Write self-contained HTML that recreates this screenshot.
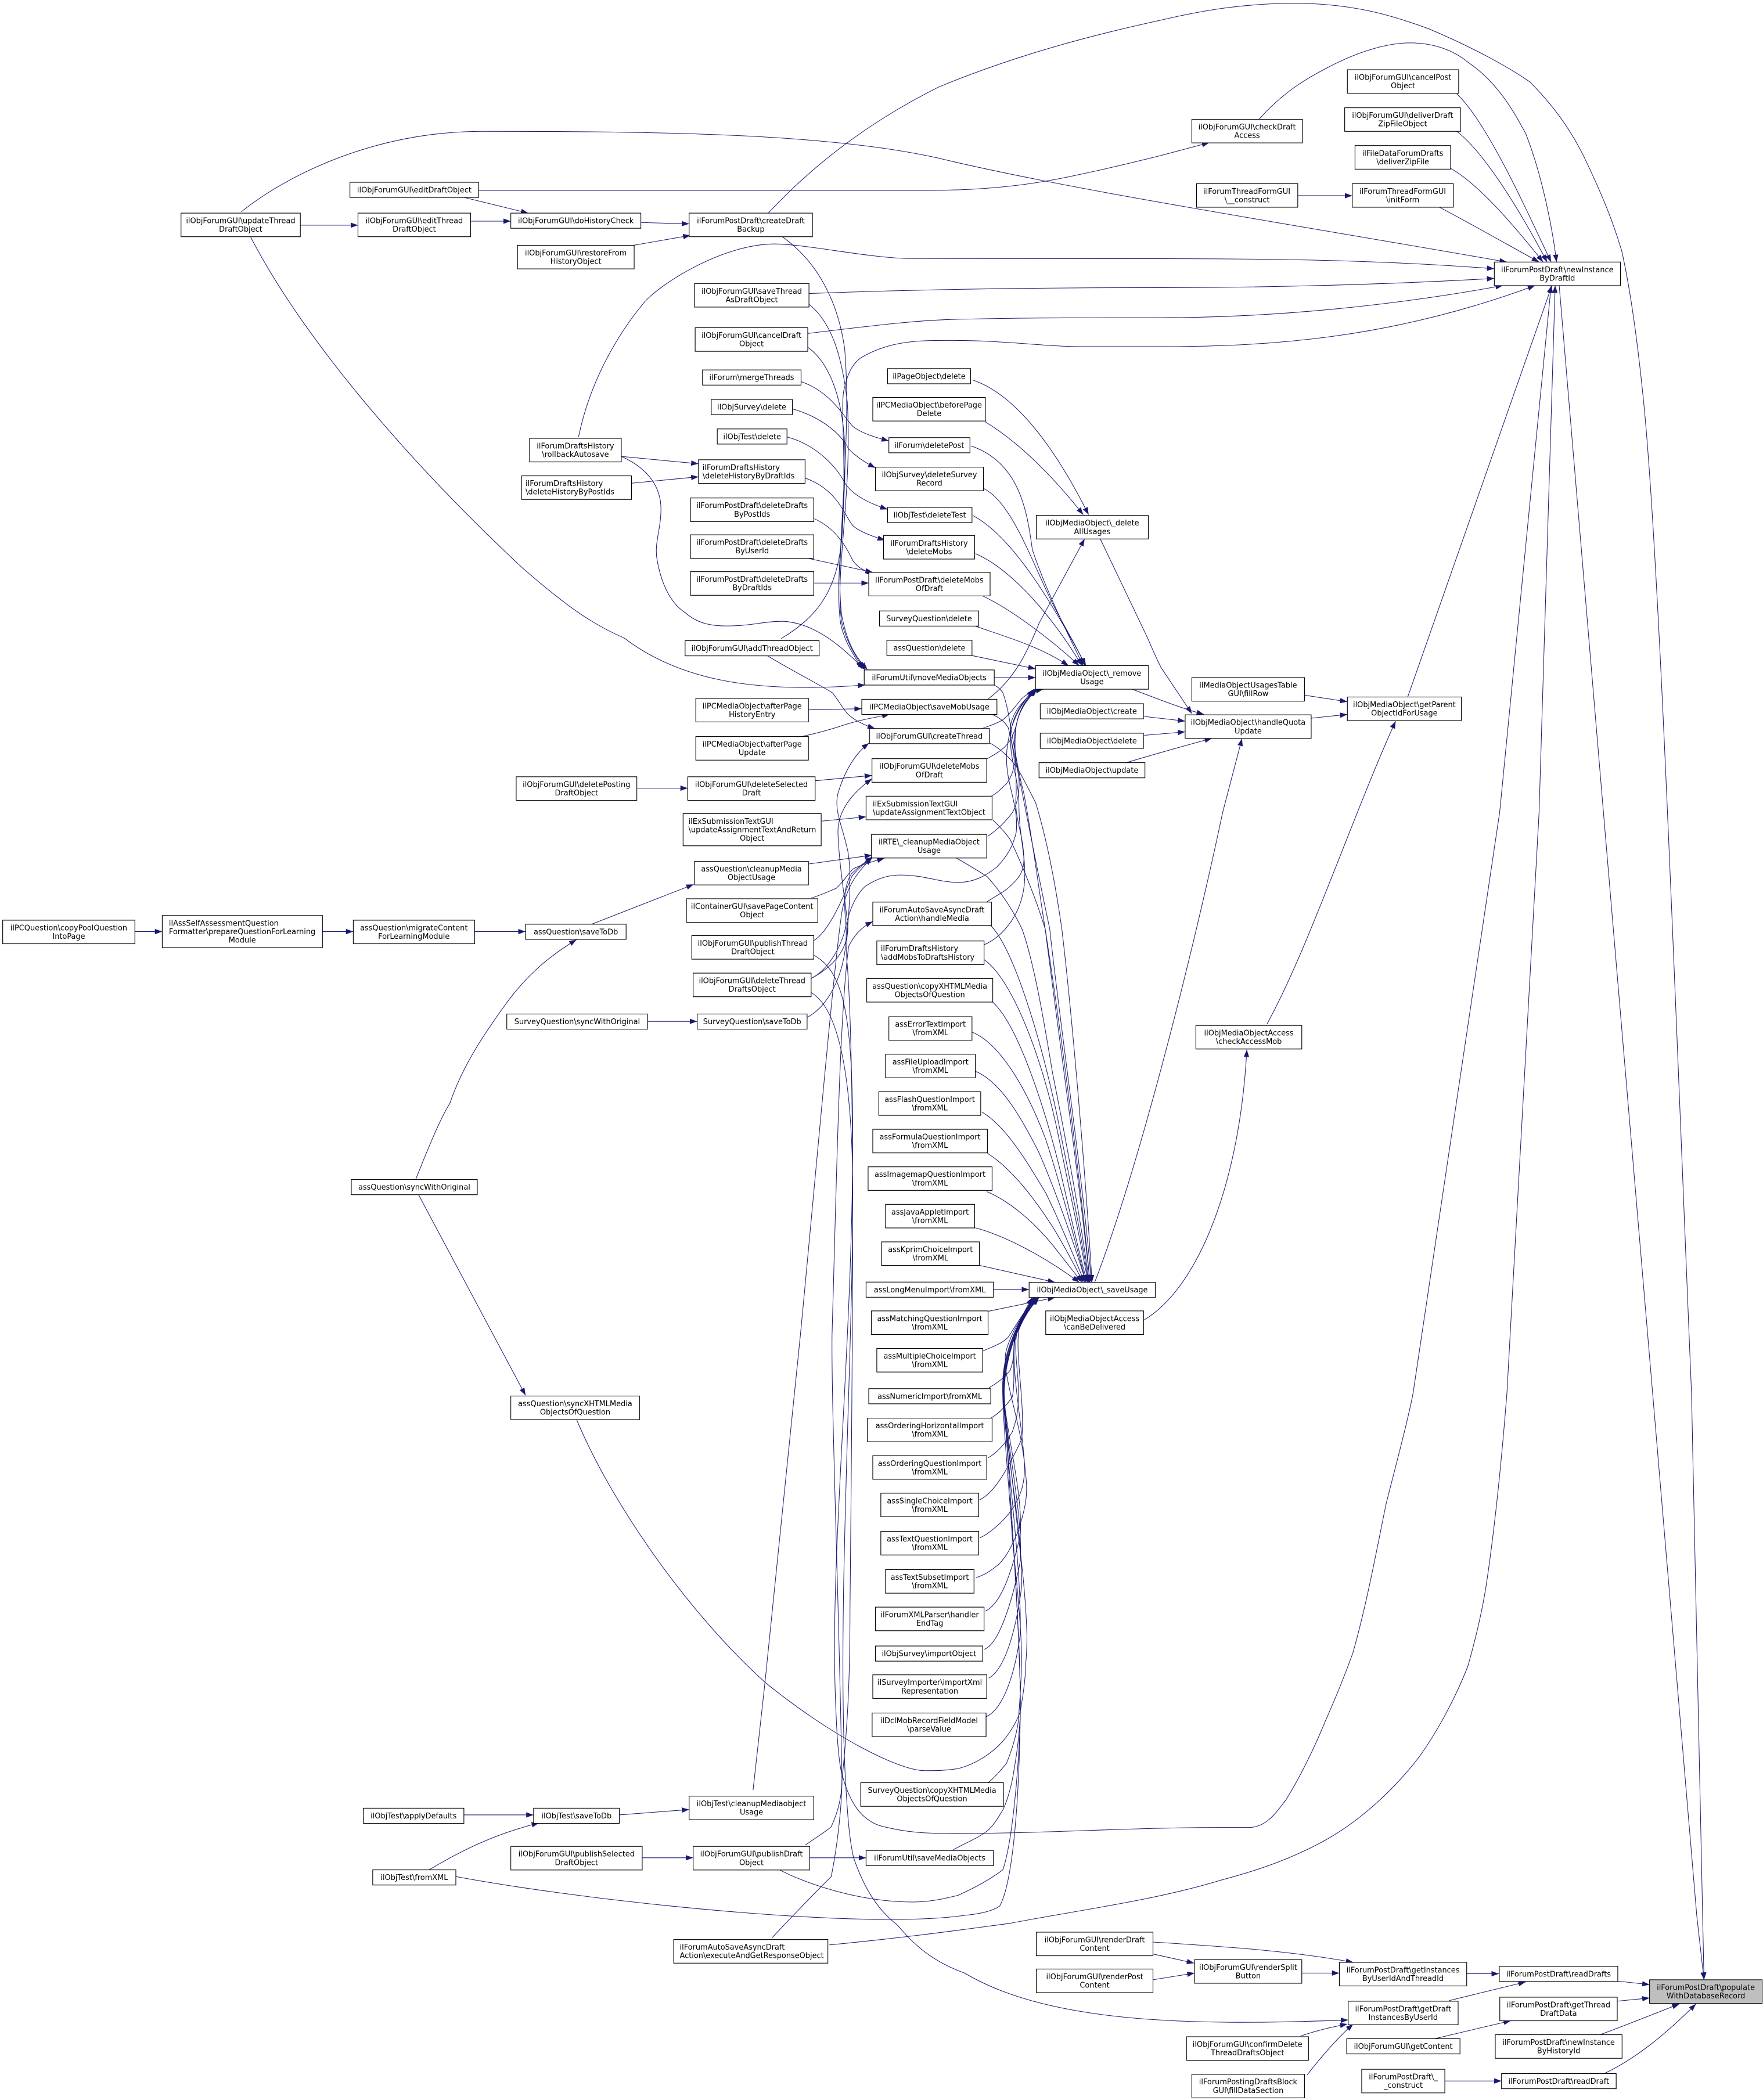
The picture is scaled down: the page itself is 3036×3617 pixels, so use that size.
<!DOCTYPE html>
<html><head><meta charset="utf-8"><style>
html,body{margin:0;padding:0;background:#fff}
svg{display:block}
rect{fill:#fff;stroke:#000;stroke-width:.5}
text{font-family:"DejaVu Sans",sans-serif;font-size:5.6px;text-anchor:middle;fill:#000}
text.l{text-anchor:start}
.e path{fill:none;stroke:#191970;stroke-width:.45;marker-end:url(#a)}
</style></head><body>
<svg width="3036" height="3617" viewBox="0 0 1315 1566.7" xmlns="http://www.w3.org/2000/svg">
<defs><marker id="a" markerUnits="userSpaceOnUse" markerWidth="5.5" markerHeight="4" refX="5.5" refY="2" orient="auto"><path d="M0,0 L5.5,2 L0,4 z" fill="#191970" stroke="none" style="marker-end:none"/></marker></defs>
<g class="e">
<path d="M1206.6,1478 L1230.4,1480.6"/>
<path d="M1206,1493 L1230.4,1490.6"/>
<path d="M1193.4,1518 C1215,1510 1235,1502 1252.7,1495"/>
<path d="M1196.5,1547 C1222,1535 1245,1515 1265,1495"/>
<path d="M573,159 C600,130 640,95 700,65 C760,40 820,25 866,15 C900,7 930,2.5 966,2.5 C1010,2.5 1040,12 1066,21.6 C1100,36 1125,50 1141,61 C1160,80 1172,98 1181,116 C1195,145 1203,165 1209.6,187 C1217,220 1222,260 1226,300 C1238,420 1250,760 1261.7,1039.5 C1266,1250 1270,1430 1271,1477"/>
<path d="M1163,213 L1196,606 L1232.7,1039.5 L1265.6,1429 L1271,1477"/>
<path d="M1086.6,70 C1110,92 1140,160 1157,195.5"/>
<path d="M1086.6,98 C1105,112 1130,150 1154,195.5"/>
<path d="M1082,125.6 C1095,133 1115,150 1151,195.5"/>
<path d="M1073.6,154.6 C1090,163 1120,180 1148,195.5"/>
<path d="M939,89 C958,68 975,58 995,48 C1015,38 1035,32 1052,32 C1070,32 1085,38 1095,46.5 C1118,62 1130,85 1138,99.6 C1150,130 1158,170 1161,195.5"/>
<path d="M180,158 C215,130 280,98 360,98 C500,98 620,100 700,118 C800,142 950,165 1124,195.5"/>
<path d="M357,142 L694,142 C740,142 775,137 806,130 C830,125 850,120 866,116 L902,106.4"/>
<path d="M431.5,326 C440,285 460,250 481,225 C495,210 540,182 578,182 C600,182 650,192.8 678.5,192.8 L866,193 C950,193 1030,194 1114.6,200.5"/>
<path d="M603.4,219 C680,216 760,214.6 866,214.6 C950,214.6 1040,212 1114.6,207.7"/>
<path d="M602.4,248.8 C650,243 690,238 724,238 C770,237 820,237 866,237 C950,237 1040,228 1121,213"/>
<path d="M582.7,476.4 C610,460 625,440 628,400 C632,340 626,300 630,289 C633,275 638,270 642,267 C665,253 690,254 712,254 C750,254 780,258.6 806,258.6 L866,258.6 C950,258.6 1040,252 1145,213"/>
<path d="M1050,520 L1157.6,213"/>
<path d="M607,712.6 C630,725 636,760 636,850 C636,1000 620,1150 622.8,1256 C624,1300 626,1318 628.4,1325 C634,1345 642,1357 656,1362 C675,1367 690,1368 711,1367.8 C780,1368 840,1363.4 909.5,1363.4 L932,1363.4 C945,1363 952,1352 959.3,1342.6 C972,1322 982,1300 989,1283 C997,1265 1003,1250 1009,1233.5 C1020,1195 1028,1150 1034,1121.5 C1042,1090 1050,1060 1054,1039.5 L1118.6,606 L1157,213"/>
<path d="M618.6,1451 C680,1445 715,1440 752.6,1435 C805,1425 860,1418 909.5,1403 C940,1395 965,1386 989,1372.6 C1015,1358 1040,1335 1058.7,1310.5 C1072,1292 1085,1268 1094.8,1243.3 C1100,1225 1105,1205 1108.4,1183.7 C1115,1140 1120,1090 1124,1039.5 L1148,606 L1160,213"/>
<path d="M605,740.5 C625,752 635,800 636,880 C637,1000 624,1200 630.6,1328 C632,1350 633,1370 636.7,1386 C645,1410 655,1425 669.7,1436.5 C685,1455 700,1465 719.5,1472 C780,1508 880,1512 1005.6,1507"/>
<path d="M600.7,1376.5 C610,1370 618,1365 620,1362.8 C625,1352 628,1340 628,1328 C632,1290 634,1256 634,1200 C636,1000 638,800 632,720 C630,705 634,680 633.8,664 C634,650 634,645 632.4,635 C628,615 622,605 625,592 C630,575 638,562 648.2,554.4"/>
<path d="M605,730 C620,722 632,710 632.4,693 C632,680 626,650 625,620.8 C625,605 635,592 650.4,581"/>
<path d="M575.8,1445.7 C600,1420 615,1405 620,1400 C625,1375 628,1345 628,1328 C626,1200 620,1050 620.6,996 C624,880 626,760 633,706 C637,698 642,692 651,687.5"/>
<path d="M561.7,1335.5 L570.5,1256 L597,996 C610,860 622,720 628,680 C632,660 640,650 650.5,640"/>
<path d="M603,644.6 L650.4,638"/>
<path d="M605,670 C612,668 618,665 623.7,662.7 C630,657 633,651 636.7,648 C643,645 650,643 659.7,640.3"/>
<path d="M607,701.7 C618,695 628,672 635.5,653.6 C640,648 645,644 651,639"/>
<path d="M602,759 C620,750 633,720 631,690 C629,670 630,660 635,652 C640,647 645,643 651,639.5"/>
<path d="M605,730 C615,725 625,712 630,695 C633,680 638,668 645.4,661.2 C655,655 663,652.8 671.3,652.8 C690,652.8 700,658.3 714.7,658.3 C728,658.3 737,652 743.6,646.8 C752,638 756,630 758,620.8 C760,600 750,585 750.8,563 C752,540 762,525 771,514.2"/>
<path d="M736.7,624 C745,618 750,613 755,606.4 C760,598 761,585 759.5,577.5 C758,562 755,555 758,541.3 C760,530 765,522 773,514.2"/>
<path d="M736.3,566 C742,563 747,560 750.8,555.8 C755,551 756,547 758,541.3 C760,530 766,522 773.5,514.2"/>
<path d="M732.6,543.5 C738,541.5 743,540 748,537 C754,532 758,526 762.3,521 C765,518.5 768,516.5 778,514.2"/>
<path d="M739.4,594 C745,591 748,587 750.8,584.7 C754,580 756,575 756.5,570.3 C757,560 752,550 754,540 C757,528 765,522 772,514.2"/>
<path d="M736.3,672.7 C745,667 750,665 755,659.7 C760,655 764,650 763.7,640 C763,620 756,610 758,592 C758,570 756,555 758,541.3 C760,530 765,522 772,514.2"/>
<path d="M733.7,705 C750,698 762,680 764,660 C766,640 760,625 760,600 C760,580 752,565 754,545 C757,530 764,523 771,514.2"/>
<path d="M737,521.5 C755,508 765,490 775,465 L809,402"/>
<path d="M725.5,283.5 C760,295 790,340 812,384"/>
<path d="M734.7,314.6 C760,330 785,355 808,384"/>
<path d="M820,400.6 L856,476 C862,490 866,498 866,498 L889,532.4"/>
<path d="M844,514 C865,522 880,528 898,533"/>
<path d="M853.5,534.5 L884,538"/>
<path d="M853.5,548.6 L884,546"/>
<path d="M840,569 C860,563 885,556 904,550.8"/>
<path d="M816.5,956.7 C850,870 890,710 912,606 L926.4,551"/>
<path d="M978,535.8 L1005,533"/>
<path d="M972,518.5 L1005,523.5"/>
<path d="M945,764 C975,710 1010,606 1041,538"/>
<path d="M853,985 C895,960 925,880 930,783"/>
<path d="M727,467 C750,475 775,482 797,496.6"/>
<path d="M733,444.6 C755,455 785,478 805,496.6"/>
<path d="M724.6,489 L772.4,499"/>
<path d="M741.7,505.5 L772.4,505.5"/>
<path d="M724.4,332.7 C760,345 766,380 770,410 C780,440 795,470 808,496.6"/>
<path d="M733.7,364.4 C755,375 770,420 785,450 C795,470 805,485 809,496.6"/>
<path d="M725.6,384.6 C755,400 785,450 810,496.6"/>
<path d="M727.6,413 C755,425 785,460 807,496.6"/>
<path d="M740.6,510.8 C744,512 746,514 748,516.8 C752,528 753,538 755,548.7 C758,565 760,578 763.7,592 C770,625 775,665 779.6,693 C788,760 805,880 813,956.7"/>
<path d="M740,533 C745,535 749,538 752,542.8 C756,558 759,575 762,589 C770,630 777,665 783,693 C790,760 808,880 814,956.7"/>
<path d="M738.5,554.4 C745,558 752,564 758,571.7 C763,580 768,590 772.5,599 C782,630 788,665 792,693 C800,760 810,880 814.5,956.7"/>
<path d="M740.6,611.8 C745,616 750,621 753.6,626.6 C760,640 765,652 769.5,664 C774,675 777,685 779.6,693 C790,760 806,880 813,956.7"/>
<path d="M713,640 C722,645 730,650 736.3,654 C748,667 756,680 762.3,693 C772,720 780,770 785,800 C795,850 806,910 812.5,956.7"/>
<path d="M738,689.6 C755,705 775,770 788,830 C798,880 808,930 812,956.7"/>
<path d="M733.7,715.7 C755,730 778,790 790,850 C798,890 807,930 811.5,956.7"/>
<path d="M740.4,747.6 C760,765 780,830 790,870 C797,900 806,940 811,956.7"/>
<path d="M725,770 C745,778 765,810 780,850 C790,880 803,930 810,956.7"/>
<path d="M727,799 C745,806 760,830 775,860 C788,890 802,930 810,956.7"/>
<path d="M732.4,829.6 C750,840 765,865 780,890 C790,910 802,940 809,956.7"/>
<path d="M736.5,860.4 C755,872 772,895 785,915 C793,928 802,945 808,956.7"/>
<path d="M736,889 C755,897 775,915 790,935 L807,956.7"/>
<path d="M727.5,916 C750,922 780,938 805,956.7"/>
<path d="M730.5,944 L787,956.7"/>
<path d="M741,962 L767.5,962"/>
<path d="M736.5,978.4 L787,968"/>
<path d="M733,1008 C742,1004 748,1002 752,997.6 C757,990 764,978 772,968"/>
<path d="M737.5,1035.5 C745,1031 750,1027 753.6,1022 C758,1010 755,1000 758,993 C762,985 767,975 773,968"/>
<path d="M739,1058 C746,1054 751,1048 755,1042.4 C758,1030 754,1005 758,994 C762,985 768,975 774,968"/>
<path d="M737,1087.6 C745,1083 751,1075 755,1068.4 C758,1060 759.5,1052 759.5,1045 C761,1030 755,1005 759,993 C763,985 768,975 775,968"/>
<path d="M730.5,1119 C742,1114 752,1095 762,1074 C765,1050 757,1010 760,992 C764,982 769,975 775,968"/>
<path d="M730.6,1147.5 C738,1144 748,1135.7 755,1126 C762,1115 765,1105 764,1090 C762,1060 754,1020 757,1000 C760,988 768,975 775,968"/>
<path d="M728,1177 C735,1175 740,1171 745,1167 C752,1160 756,1150 759,1143.5 C765,1125 767,1115 765,1100 C762,1060 748,1030 750,1010 C753,995 765,978 772,968"/>
<path d="M735,1202 C745,1197 753,1180 761,1145.5 C763,1115 752,1075 749,1045 C748,1015 760,985 772,968"/>
<path d="M734,1230.5 C745,1227 755,1195 761,1165 C763,1130 752,1085 748.5,1040 C747,1015 760,985 771,968"/>
<path d="M737.5,1252 C750,1245 758,1215 762,1184 C763,1140 750,1085 748,1035 C747,1010 760,985 771,968"/>
<path d="M735.7,1280.7 C748,1275 757,1250 761,1219 C762,1170 752,1100 748,1040 C747,1012 760,985 770,968"/>
<path d="M737,1330 C743,1325 747,1320 750.7,1315.6 C755,1305 758,1295 759.5,1284.7 C761,1265 762,1250 762,1234.4 C761,1200 757,1170 755,1146 C752,1100 747,1050 748,1030 C750,1005 762,982 771,968"/>
<path d="M711,1380 C720,1375 730,1371 736.3,1366 C742,1361 745,1355 748,1350.4 C752,1342 755,1330 756.5,1319.5 C759,1305 760,1295 761,1280.7 C762,1230 753,1110 749,1045 C747,1015 760,985 771,968"/>
<path d="M579.5,1394 C600,1405 640,1419 681,1419 C695,1419 706,1416 714.6,1414 C728,1408 740,1401 748,1395 C755,1375 760,1320 761,1280 C762,1230 753,1110 749,1045 C747,1015 760,985 772,968"/>
<path d="M340,1400 C420,1415 570,1432 664,1432 C685,1432 705,1431 719,1429 C730,1428 740,1426 745.7,1422 C755,1405 760,1350 761,1280 C762,1230 753,1110 749,1045 C747,1015 760,985 773,968"/>
<path d="M430,1059 C460,1130 520,1210 571.7,1256 C620,1295 670,1321 690,1321 C698,1321 705,1321 714.6,1319.5 C728,1316 740,1308 748,1299 C754,1292 758,1285 761,1277 C763,1265 765,1252 765,1242 C766,1232 766,1226 766,1220 C765,1190 762,1165 759.5,1145.5 C755,1100 748,1050 749,1030 C751,1005 763,982 774,968"/>
<path d="M478,166 L514,167"/>
<path d="M472.5,183 L515,175.6"/>
<path d="M224,168 L267,168"/>
<path d="M351,165 L381,165"/>
<path d="M345,147 L394,159"/>
<path d="M187,177 C225,250 300,340 390,424 C420,450 440,465 465.6,476 C510,510 570,517 645.4,511"/>
<path d="M463.4,340.5 L521,346"/>
<path d="M467.8,360.8 L521,355.7"/>
<path d="M463.4,340.5 C485,350 493,365 493,379.6 C493,395 488,405 490,417 C493,435 500,450 511,457 C520,465 530,467 541.8,467 C560,467 570,463.5 584,463.5 C610,465 630,485 645,499.5"/>
<path d="M572,489 C590,500 610,510 620.8,516.8 C626,523 628,528 632.4,532.7 C638,538 645,541 652.6,543.5"/>
<path d="M582.6,176 C610,195 625,225 630,260 C636,330 622,420 628,460 C632,480 638,490 647,499.5"/>
<path d="M603.4,227 C620,240 628,265 632,300 C636,370 622,430 628,465 C632,480 638,490 645,499"/>
<path d="M602.4,259 C618,270 628,295 630,330 C632,380 622,430 627,465 C630,480 638,490 643,499"/>
<path d="M602.8,529.6 L642.8,528.7"/>
<path d="M597.7,549.5 C610,547 623.7,542.8 623.7,542.8 C640,537 650,536 663.4,532.9"/>
<path d="M600,356.5 C625,365 630,385 636,392 C640,396 650,400 660,403"/>
<path d="M597,284.6 C620,292 630,312 636,318 C642,323 652,326 663,329"/>
<path d="M591,305 C615,312 628,325 633,335 C638,340 645,345 653,349"/>
<path d="M587,326 C610,332 625,350 630,360 C636,370 650,376 662,380"/>
<path d="M607.4,387 C625,395 632,410 636,418 C640,424 645,426 652,428"/>
<path d="M602.4,416.5 L651,427"/>
<path d="M605,435 L648,435"/>
<path d="M607.8,582.5 L650.4,578.5"/>
<path d="M475,588 L513,588"/>
<path d="M613,612.6 L646,609.4"/>
<path d="M483,762 L520,762"/>
<path d="M440,690 L517.4,659.8"/>
<path d="M354,695 L392,695"/>
<path d="M240.5,695 L263.5,695"/>
<path d="M100.6,695 L121,695"/>
<path d="M310,880 C318,860 328,835 335.6,823 C345,795 362,770 378,748 C395,725 412,712 430,701"/>
<path d="M312,891 L392,1041"/>
<path d="M346,1354 L398,1354"/>
<path d="M320,1395 C345,1380 370,1368 402,1360"/>
<path d="M462,1354 L514,1350"/>
<path d="M479,1386 L517,1386"/>
<path d="M604,1386 L646,1386"/>
<path d="M854.8,1456.6 L890.7,1464.6"/>
<path d="M857,1448.7 C910,1452 960,1455 1009.4,1464"/>
<path d="M860,1477 L891,1472"/>
<path d="M971,1472 L999,1472"/>
<path d="M1094,1472.5 L1118,1472.5"/>
<path d="M1081,1492.5 L1138,1478.6"/>
<path d="M1070,1521 L1127,1507.5"/>
<path d="M1078,1552.5 L1120,1552.5"/>
<path d="M970,1519 C985,1514 995,1512 1005,1510"/>
<path d="M975,1548 C985,1535 998,1520 1009.4,1510"/>
<path d="M968,146 L1008.6,146"/>
</g>

<g transform="translate(1230.4 1477)"><rect width="84" height="17.6" style="fill:#bfbfbf"/><text x="42" y="7.6">ilForumPostDraft\populate</text><text x="42" y="13.9">WithDatabaseRecord</text></g>
<g transform="translate(999 1464)"><rect width="95" height="17.6"/><text x="47.5" y="7.6">ilForumPostDraft\getInstances</text><text x="47.5" y="13.9">ByUserIdAndThreadId</text></g>
<g transform="translate(1118.3 1467)"><rect width="88.4" height="11.3"/><text x="44.2" y="7.6">ilForumPostDraft\readDrafts</text></g>
<g transform="translate(1005.6 1493)"><rect width="82" height="17.6"/><text x="41" y="7.6">ilForumPostDraft\getDraft</text><text x="41" y="13.9">InstancesByUserId</text></g>
<g transform="translate(1118.7 1490)"><rect width="87.6" height="17.6"/><text x="43.8" y="7.6">ilForumPostDraft\getThread</text><text x="43.8" y="13.9">DraftData</text></g>
<g transform="translate(1004.5 1521)"><rect width="84.5" height="11.3"/><text x="42.2" y="7.6">ilObjForumGUI\getContent</text></g>
<g transform="translate(1115.3 1518)"><rect width="94.6" height="17.6"/><text x="47.3" y="7.6">ilForumPostDraft\newInstance</text><text x="47.3" y="13.9">ByHistoryId</text></g>
<g transform="translate(1015.7 1543.8)"><rect width="62" height="17.6"/><text x="31" y="7.6">ilForumPostDraft\_</text><text x="31" y="13.9">_construct</text></g>
<g transform="translate(1120 1547)"><rect width="85.5" height="11.3"/><text x="42.7" y="7.6">ilForumPostDraft\readDraft</text></g>
<g transform="translate(2 686.5)"><rect width="98.6" height="17.6"/><text x="49.3" y="7.6">ilPCQuestion\copyPoolQuestion</text><text x="49.3" y="13.9">IntoPage</text></g>
<g transform="translate(121 683)"><rect width="119.5" height="24"/><text class="l" x="5" y="7.6">ilAssSelfAssessmentQuestion</text><text class="l" x="5" y="13.9">Formatter\prepareQuestionForLearning</text><text x="59.7" y="20.2">Module</text></g>
<g transform="translate(263.5 686.5)"><rect width="90.5" height="17.6"/><text x="45.2" y="7.6">assQuestion\migrateContent</text><text x="45.2" y="13.9">ForLearningModule</text></g>
<g transform="translate(392 689.5)"><rect width="75" height="11.3"/><text x="37.5" y="7.6">assQuestion\saveToDb</text></g>
<g transform="translate(135 159)"><rect width="89" height="17.6"/><text x="44.5" y="7.6">ilObjForumGUI\updateThread</text><text x="44.5" y="13.9">DraftObject</text></g>
<g transform="translate(261 136)"><rect width="96" height="11.3"/><text x="48" y="7.6">ilObjForumGUI\editDraftObject</text></g>
<g transform="translate(267 159)"><rect width="84" height="17.6"/><text x="42" y="7.6">ilObjForumGUI\editThread</text><text x="42" y="13.9">DraftObject</text></g>
<g transform="translate(381 159)"><rect width="97" height="11.3"/><text x="48.5" y="7.6">ilObjForumGUI\doHistoryCheck</text></g>
<g transform="translate(386 183)"><rect width="87" height="17.6"/><text x="43.5" y="7.6">ilObjForumGUI\restoreFrom</text><text x="43.5" y="13.9">HistoryObject</text></g>
<g transform="translate(514 159)"><rect width="92" height="17.6"/><text x="46" y="7.6">ilForumPostDraft\createDraft</text><text x="46" y="13.9">Backup</text></g>
<g transform="translate(889 89)"><rect width="82.5" height="17.6"/><text x="41.2" y="7.6">ilObjForumGUI\checkDraft</text><text x="41.2" y="13.9">Access</text></g>
<g transform="translate(1005 52)"><rect width="83" height="17.6"/><text x="41.5" y="7.6">ilObjForumGUI\cancelPost</text><text x="41.5" y="13.9">Object</text></g>
<g transform="translate(1003 80.4)"><rect width="86.4" height="17.6"/><text x="43.2" y="7.6">ilObjForumGUI\deliverDraft</text><text x="43.2" y="13.9">ZipFileObject</text></g>
<g transform="translate(1010.7 108.6)"><rect width="71.3" height="17.6"/><text x="35.6" y="7.6">ilFileDataForumDrafts</text><text x="35.6" y="13.9">\deliverZipFile</text></g>
<g transform="translate(892.5 137)"><rect width="75.5" height="17.6"/><text x="37.7" y="7.6">ilForumThreadFormGUI</text><text x="37.7" y="13.9">\__construct</text></g>
<g transform="translate(1008.6 137)"><rect width="75.4" height="17.6"/><text x="37.7" y="7.6">ilForumThreadFormGUI</text><text x="37.7" y="13.9">\initForm</text></g>
<g transform="translate(1114.6 195.5)"><rect width="94.1" height="17.6"/><text x="47" y="7.6">ilForumPostDraft\newInstance</text><text x="47" y="13.9">ByDraftId</text></g>
<g transform="translate(518 211.5)"><rect width="85.4" height="17.6"/><text x="42.7" y="7.6">ilObjForumGUI\saveThread</text><text x="42.7" y="13.9">AsDraftObject</text></g>
<g transform="translate(518.5 244.5)"><rect width="84" height="17.6"/><text x="42" y="7.6">ilObjForumGUI\cancelDraft</text><text x="42" y="13.9">Object</text></g>
<g transform="translate(524 276)"><rect width="73.5" height="11.3"/><text x="36.7" y="7.6">ilForum\mergeThreads</text></g>
<g transform="translate(530.5 298)"><rect width="60.5" height="11.3"/><text x="30.2" y="7.6">ilObjSurvey\delete</text></g>
<g transform="translate(535 320)"><rect width="52" height="11.3"/><text x="26" y="7.6">ilObjTest\delete</text></g>
<g transform="translate(521 343)"><rect width="79.5" height="17.6"/><text class="l" x="3" y="7.6">ilForumDraftsHistory</text><text class="l" x="3" y="13.9">\deleteHistoryByDraftIds</text></g>
<g transform="translate(515 371.5)"><rect width="92" height="17.6"/><text x="46" y="7.6">ilForumPostDraft\deleteDrafts</text><text x="46" y="13.9">ByPostIds</text></g>
<g transform="translate(515 399)"><rect width="92" height="17.6"/><text x="46" y="7.6">ilForumPostDraft\deleteDrafts</text><text x="46" y="13.9">ByUserId</text></g>
<g transform="translate(515 426.5)"><rect width="92" height="17.6"/><text x="46" y="7.6">ilForumPostDraft\deleteDrafts</text><text x="46" y="13.9">ByDraftIds</text></g>
<g transform="translate(395 327)"><rect width="68.4" height="17.6"/><text x="34.2" y="7.6">ilForumDraftsHistory</text><text x="34.2" y="13.9">\rollbackAutosave</text></g>
<g transform="translate(389 355)"><rect width="82" height="17.6"/><text class="l" x="3" y="7.6">ilForumDraftsHistory</text><text class="l" x="3" y="13.9">\deleteHistoryByPostIds</text></g>
<g transform="translate(511 478)"><rect width="100" height="11.3"/><text x="50" y="7.6">ilObjForumGUI\addThreadObject</text></g>
<g transform="translate(519 521)"><rect width="84" height="17.6"/><text x="42" y="7.6">ilPCMediaObject\afterPage</text><text x="42" y="13.9">HistoryEntry</text></g>
<g transform="translate(519 549.5)"><rect width="84" height="17.6"/><text x="42" y="7.6">ilPCMediaObject\afterPage</text><text x="42" y="13.9">Update</text></g>
<g transform="translate(385 579.5)"><rect width="90" height="17.6"/><text x="45" y="7.6">ilObjForumGUI\deletePosting</text><text x="45" y="13.9">DraftObject</text></g>
<g transform="translate(513 579.5)"><rect width="95" height="17.6"/><text x="47.5" y="7.6">ilObjForumGUI\deleteSelected</text><text x="47.5" y="13.9">Draft</text></g>
<g transform="translate(509.5 607)"><rect width="103" height="24"/><text class="l" x="4" y="7.6">ilExSubmissionTextGUI</text><text class="l" x="4" y="13.9">\updateAssignmentTextAndReturn</text><text x="51.5" y="20.2">Object</text></g>
<g transform="translate(518 642.6)"><rect width="85" height="17.6"/><text x="42.5" y="7.6">assQuestion\cleanupMedia</text><text x="42.5" y="13.9">ObjectUsage</text></g>
<g transform="translate(512 670.5)"><rect width="98" height="17.6"/><text x="49" y="7.6">ilContainerGUI\savePageContent</text><text x="49" y="13.9">Object</text></g>
<g transform="translate(516 698)"><rect width="91" height="17.6"/><text x="45.5" y="7.6">ilObjForumGUI\publishThread</text><text x="45.5" y="13.9">DraftObject</text></g>
<g transform="translate(517 726)"><rect width="88" height="17.6"/><text x="44" y="7.6">ilObjForumGUI\deleteThread</text><text x="44" y="13.9">DraftsObject</text></g>
<g transform="translate(520 756.5)"><rect width="82" height="11.3"/><text x="41" y="7.6">SurveyQuestion\saveToDb</text></g>
<g transform="translate(378 756.5)"><rect width="105" height="11.3"/><text x="52.5" y="7.6">SurveyQuestion\syncWithOriginal</text></g>
<g transform="translate(262 880)"><rect width="94" height="11.3"/><text x="47" y="7.6">assQuestion\syncWithOriginal</text></g>
<g transform="translate(381 1041.5)"><rect width="96" height="17.6"/><text x="48" y="7.6">assQuestion\syncXHTMLMedia</text><text x="48" y="13.9">ObjectsOfQuestion</text></g>
<g transform="translate(271 1349)"><rect width="75" height="11.3"/><text x="37.5" y="7.6">ilObjTest\applyDefaults</text></g>
<g transform="translate(398 1349)"><rect width="64" height="11.3"/><text x="32" y="7.6">ilObjTest\saveToDb</text></g>
<g transform="translate(514 1340)"><rect width="93" height="17.6"/><text x="46.5" y="7.6">ilObjTest\cleanupMediaobject</text><text x="46.5" y="13.9">Usage</text></g>
<g transform="translate(278 1395)"><rect width="62" height="11.3"/><text x="31" y="7.6">ilObjTest\fromXML</text></g>
<g transform="translate(381 1377.5)"><rect width="98" height="17.6"/><text x="49" y="7.6">ilObjForumGUI\publishSelected</text><text x="49" y="13.9">DraftObject</text></g>
<g transform="translate(517 1377.5)"><rect width="87" height="17.6"/><text x="43.5" y="7.6">ilObjForumGUI\publishDraft</text><text x="43.5" y="13.9">Object</text></g>
<g transform="translate(502.5 1447)"><rect width="115" height="17.6"/><text class="l" x="4.5" y="7.6">ilForumAutoSaveAsyncDraft</text><text class="l" x="4.5" y="13.9">Action\executeAndGetResponseObject</text></g>
<g transform="translate(662 275)"><rect width="62" height="11.3"/><text x="31" y="7.6">ilPageObject\delete</text></g>
<g transform="translate(651 296.5)"><rect width="84" height="17.6"/><text x="42" y="7.6">ilPCMediaObject\beforePage</text><text x="42" y="13.9">Delete</text></g>
<g transform="translate(663 326.5)"><rect width="60.5" height="11.3"/><text x="30.2" y="7.6">ilForum\deletePost</text></g>
<g transform="translate(653 348.5)"><rect width="80.5" height="17.6"/><text x="40.2" y="7.6">ilObjSurvey\deleteSurvey</text><text x="40.2" y="13.9">Record</text></g>
<g transform="translate(662 378.5)"><rect width="63" height="11.3"/><text x="31.5" y="7.6">ilObjTest\deleteTest</text></g>
<g transform="translate(659 399.5)"><rect width="68" height="17.6"/><text x="34" y="7.6">ilForumDraftsHistory</text><text x="34" y="13.9">\deleteMobs</text></g>
<g transform="translate(648 427)"><rect width="90.5" height="17.6"/><text x="45.2" y="7.6">ilForumPostDraft\deleteMobs</text><text x="45.2" y="13.9">OfDraft</text></g>
<g transform="translate(656 455.8)"><rect width="74" height="11.3"/><text x="37" y="7.6">SurveyQuestion\delete</text></g>
<g transform="translate(661.5 477.7)"><rect width="63.5" height="11.3"/><text x="31.7" y="7.6">assQuestion\delete</text></g>
<g transform="translate(644.6 499.8)"><rect width="97" height="11.3"/><text x="48.5" y="7.6">ilForumUtil\moveMediaObjects</text></g>
<g transform="translate(642.8 521.7)"><rect width="100.8" height="11.3"/><text x="50.4" y="7.6">ilPCMediaObject\saveMobUsage</text></g>
<g transform="translate(648.5 543.5)"><rect width="89.5" height="11.3"/><text x="44.7" y="7.6">ilObjForumGUI\createThread</text></g>
<g transform="translate(650.4 566)"><rect width="85.6" height="17.6"/><text x="42.8" y="7.6">ilObjForumGUI\deleteMobs</text><text x="42.8" y="13.9">OfDraft</text></g>
<g transform="translate(646 594)"><rect width="94" height="17.6"/><text class="l" x="5" y="7.6">ilExSubmissionTextGUI</text><text class="l" x="5" y="13.9">\updateAssignmentTextObject</text></g>
<g transform="translate(650 622.5)"><rect width="86" height="17.6"/><text x="43" y="7.6">ilRTE\_cleanupMediaObject</text><text x="43" y="13.9">Usage</text></g>
<g transform="translate(651 673)"><rect width="88.5" height="17.6"/><text x="44.2" y="7.6">ilForumAutoSaveAsyncDraft</text><text x="44.2" y="13.9">Action\handleMedia</text></g>
<g transform="translate(654 702)"><rect width="80" height="17.6"/><text class="l" x="3" y="7.6">ilForumDraftsHistory</text><text class="l" x="3" y="13.9">\addMobsToDraftsHistory</text></g>
<g transform="translate(646.5 730)"><rect width="94" height="17.6"/><text x="47" y="7.6">assQuestion\copyXHTMLMedia</text><text x="47" y="13.9">ObjectsOfQuestion</text></g>
<g transform="translate(663 758.5)"><rect width="62" height="17.6"/><text x="31" y="7.6">assErrorTextImport</text><text x="31" y="13.9">\fromXML</text></g>
<g transform="translate(660.5 786.5)"><rect width="67" height="17.6"/><text x="33.5" y="7.6">assFileUploadImport</text><text x="33.5" y="13.9">\fromXML</text></g>
<g transform="translate(655.5 814.5)"><rect width="76" height="17.6"/><text x="38" y="7.6">assFlashQuestionImport</text><text x="38" y="13.9">\fromXML</text></g>
<g transform="translate(651 842.5)"><rect width="85.5" height="17.6"/><text x="42.7" y="7.6">assFormulaQuestionImport</text><text x="42.7" y="13.9">\fromXML</text></g>
<g transform="translate(647.5 870.5)"><rect width="92.5" height="17.6"/><text x="46.2" y="7.6">assImagemapQuestionImport</text><text x="46.2" y="13.9">\fromXML</text></g>
<g transform="translate(660.5 898.5)"><rect width="66.5" height="17.6"/><text x="33.2" y="7.6">assJavaAppletImport</text><text x="33.2" y="13.9">\fromXML</text></g>
<g transform="translate(657.5 926.5)"><rect width="73" height="17.6"/><text x="36.5" y="7.6">assKprimChoiceImport</text><text x="36.5" y="13.9">\fromXML</text></g>
<g transform="translate(646 956.5)"><rect width="95" height="11.3"/><text x="47.5" y="7.6">assLongMenuImport\fromXML</text></g>
<g transform="translate(650 978)"><rect width="87" height="17.6"/><text x="43.5" y="7.6">assMatchingQuestionImport</text><text x="43.5" y="13.9">\fromXML</text></g>
<g transform="translate(654 1006)"><rect width="79" height="17.6"/><text x="39.5" y="7.6">assMultipleChoiceImport</text><text x="39.5" y="13.9">\fromXML</text></g>
<g transform="translate(648 1036)"><rect width="91" height="11.3"/><text x="45.5" y="7.6">assNumericImport\fromXML</text></g>
<g transform="translate(647 1058)"><rect width="93" height="17.6"/><text x="46.5" y="7.6">assOrderingHorizontalImport</text><text x="46.5" y="13.9">\fromXML</text></g>
<g transform="translate(651 1086)"><rect width="85" height="17.6"/><text x="42.5" y="7.6">assOrderingQuestionImport</text><text x="42.5" y="13.9">\fromXML</text></g>
<g transform="translate(657 1114)"><rect width="73" height="17.6"/><text x="36.5" y="7.6">assSingleChoiceImport</text><text x="36.5" y="13.9">\fromXML</text></g>
<g transform="translate(657 1142.5)"><rect width="73" height="17.6"/><text x="36.5" y="7.6">assTextQuestionImport</text><text x="36.5" y="13.9">\fromXML</text></g>
<g transform="translate(660.5 1171)"><rect width="66" height="17.6"/><text x="33" y="7.6">assTextSubsetImport</text><text x="33" y="13.9">\fromXML</text></g>
<g transform="translate(653 1199)"><rect width="81" height="17.6"/><text x="40.5" y="7.6">ilForumXMLParser\handler</text><text x="40.5" y="13.9">EndTag</text></g>
<g transform="translate(653 1228)"><rect width="80" height="11.3"/><text x="40" y="7.6">ilObjSurvey\importObject</text></g>
<g transform="translate(651 1249.5)"><rect width="85" height="17.6"/><text x="42.5" y="7.6">ilSurveyImporter\importXml</text><text x="42.5" y="13.9">Representation</text></g>
<g transform="translate(650.5 1278)"><rect width="85" height="17.6"/><text x="42.5" y="7.6">ilDclMobRecordFieldModel</text><text x="42.5" y="13.9">\parseValue</text></g>
<g transform="translate(642 1330)"><rect width="106.5" height="17.6"/><text x="53.2" y="7.6">SurveyQuestion\copyXHTMLMedia</text><text x="53.2" y="13.9">ObjectsOfQuestion</text></g>
<g transform="translate(646 1380.5)"><rect width="95" height="11.3"/><text x="47.5" y="7.6">ilForumUtil\saveMediaObjects</text></g>
<g transform="translate(773 384.5)"><rect width="83.5" height="17.6"/><text x="41.7" y="7.6">ilObjMediaObject\_delete</text><text x="41.7" y="13.9">AllUsages</text></g>
<g transform="translate(772.4 496.6)"><rect width="84.3" height="17.6"/><text x="42.1" y="7.6">ilObjMediaObject\_remove</text><text x="42.1" y="13.9">Usage</text></g>
<g transform="translate(775.9 525)"><rect width="77" height="11.3"/><text x="38.5" y="7.6">ilObjMediaObject\create</text></g>
<g transform="translate(775.9 547)"><rect width="77" height="11.3"/><text x="38.5" y="7.6">ilObjMediaObject\delete</text></g>
<g transform="translate(775 569)"><rect width="79" height="11.3"/><text x="39.5" y="7.6">ilObjMediaObject\update</text></g>
<g transform="translate(767.6 956.7)"><rect width="94.2" height="11.3"/><text x="47.1" y="7.6">ilObjMediaObject\_saveUsage</text></g>
<g transform="translate(780 978)"><rect width="73" height="17.6"/><text x="36.5" y="7.6">ilObjMediaObjectAccess</text><text x="36.5" y="13.9">\canBeDelivered</text></g>
<g transform="translate(892 765)"><rect width="79" height="17.6"/><text x="39.5" y="7.6">ilObjMediaObjectAccess</text><text x="39.5" y="13.9">\checkAccessMob</text></g>
<g transform="translate(889 505.5)"><rect width="84" height="17.6"/><text x="42" y="7.6">ilMediaObjectUsagesTable</text><text x="42" y="13.9">GUI\fillRow</text></g>
<g transform="translate(884 533.3)"><rect width="94" height="17.6"/><text x="47" y="7.6">ilObjMediaObject\handleQuota</text><text x="47" y="13.9">Update</text></g>
<g transform="translate(1005 520)"><rect width="85" height="17.6"/><text x="42.5" y="7.6">ilObjMediaObject\getParent</text><text x="42.5" y="13.9">ObjectIdForUsage</text></g>
<g transform="translate(773 1441.5)"><rect width="87" height="17.6"/><text x="43.5" y="7.6">ilObjForumGUI\renderDraft</text><text x="43.5" y="13.9">Content</text></g>
<g transform="translate(773 1469)"><rect width="87" height="17.6"/><text x="43.5" y="7.6">ilObjForumGUI\renderPost</text><text x="43.5" y="13.9">Content</text></g>
<g transform="translate(891 1462)"><rect width="80" height="17.6"/><text x="40" y="7.6">ilObjForumGUI\renderSplit</text><text x="40" y="13.9">Button</text></g>
<g transform="translate(885 1519.5)"><rect width="91" height="17.6"/><text x="45.5" y="7.6">ilObjForumGUI\confirmDelete</text><text x="45.5" y="13.9">ThreadDraftsObject</text></g>
<g transform="translate(889 1547.5)"><rect width="84" height="17.6"/><text x="42" y="7.6">ilForumPostingDraftsBlock</text><text x="42" y="13.9">GUI\fillDataSection</text></g>
</svg>
</body></html>
